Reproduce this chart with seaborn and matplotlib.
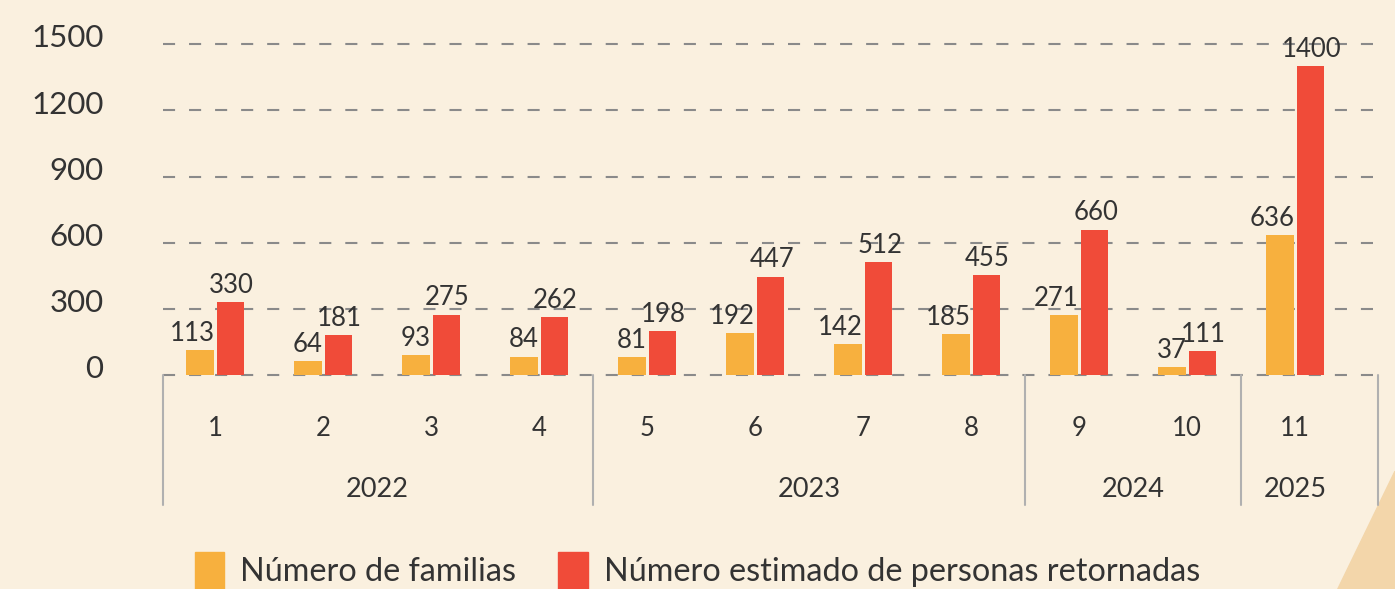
import pandas as pd
import matplotlib
matplotlib.use("Agg")
import matplotlib.pyplot as plt
import matplotlib.transforms as mtransforms
from matplotlib.patches import Polygon
import seaborn as sns

# datos
periodos = ["1", "2", "3", "4", "5", "6", "7", "8", "9", "10", "11"]
anios = ["2022", "2023", "2024", "2025"]
periodos_por_anio = [4, 4, 2, 1]
familias = [113, 64, 93, 84, 81, 192, 142, 185, 271, 37, 636]
personas = [330, 181, 275, 262, 198, 447, 512, 455, 660, 111, 1400]
serie_fam = "Número de familias"
serie_per = "Número estimado de personas retornadas"
yticks = [0, 300, 600, 900, 1200, 1500]

BG = "#FAF0DF"
NARANJA = "#F7B03E"
ROJO = "#F04B39"
TXT = "#333333"

df = pd.DataFrame({
    "periodo": periodos * 2,
    "valor": familias + personas,
    "serie": [serie_fam] * len(familias) + [serie_per] * len(personas),
})

sns.set_theme(style="white")
plt.rcParams["font.family"] = ["Lato", "DejaVu Sans"]

fig = plt.figure(figsize=(13.95, 5.89), dpi=100, facecolor=BG)
ax = fig.add_axes([0.117, 0.363, 0.871, 0.562])
ax.set_facecolor(BG)

sns.barplot(data=df, x="periodo", y="valor", hue="serie", order=periodos,
            palette=[NARANJA, ROJO], width=0.56, gap=0.1, saturation=1,
            linewidth=0, legend=False, ax=ax)

ax.set_ylim(0, 1500)
ax.set_xlim(-0.48, 10.77)
ax.set_yticks(yticks)
ax.set_xticks(range(len(periodos)))
ax.set_xticklabels([])
ax.tick_params(axis="y", length=0, pad=43, labelsize=22.5, labelcolor=TXT)
ax.tick_params(axis="x", length=0)
for lbl in ax.get_yticklabels():
    lbl.set_transform(lbl.get_transform() + mtransforms.ScaledTranslation(0, 6 / 72, fig.dpi_scale_trans))
ax.set_xlabel("")
ax.set_ylabel("")
for s in ax.spines.values():
    s.set_visible(False)

# lineas de referencia punteadas
for v in yticks:
    ax.axhline(v, color="#8a8a8a", lw=1.5, ls=(0, (5.8, 6.7)), zorder=0, clip_on=False)

# etiquetas de valores: familias alineadas a la derecha de su barra, personas centradas
cont_fam, cont_per = ax.containers[0], ax.containers[1]
for rect, v in zip(cont_fam, familias):
    ax.annotate(str(v), (rect.get_x() + rect.get_width(), rect.get_height()),
                xytext=(1, 3), textcoords="offset points", ha="right", va="bottom",
                fontsize=18.5, color=TXT)
for rect, v in zip(cont_per, personas):
    ax.annotate(str(v), (rect.get_x() + rect.get_width() / 2, rect.get_height()),
                xytext=(1, 3), textcoords="offset points", ha="center", va="bottom",
                fontsize=18.5, color=TXT)

# eje de categorias con anios
trans = mtransforms.blended_transform_factory(ax.transData, ax.transAxes)
for i, p in enumerate(periodos):
    ax.text(i, -0.16, p, transform=trans, ha="center", va="center", fontsize=18.5, color=TXT)

bordes = [-0.48]
inicio = 0
for n, anio in zip(periodos_por_anio, anios):
    fin = inicio + n
    centro = (inicio + fin - 1) / 2
    ax.text(centro, -0.344, anio, transform=trans, ha="center", va="center", fontsize=19.5, color=TXT)
    bordes.append(fin - 0.5 if fin < len(periodos) else 10.77)
    inicio = fin
for b in bordes:
    ax.plot([b, b], [0, -0.393], transform=trans, color="#b0b0b0", lw=1.5, clip_on=False)

# leyenda
handles = [plt.Rectangle((0, 0), 1, 1, color=NARANJA), plt.Rectangle((0, 0), 1, 1, color=ROJO)]
fig.legend(handles, [serie_fam, serie_per], loc="lower center", bbox_to_anchor=(0.5, -0.05),
           ncol=2, frameon=False, fontsize=23.3, handlelength=0.9, handleheight=1.4,
           handletextpad=0.5, columnspacing=1.3, labelcolor=TXT)

# adorno de la esquina
fig.add_artist(Polygon([(0.959, 0), (1.0, 0.2), (1.0, 0)], closed=True,
                       transform=fig.transFigure, color="#F3D6AA", zorder=0))

fig.savefig("out.png", dpi=100, facecolor=BG)
